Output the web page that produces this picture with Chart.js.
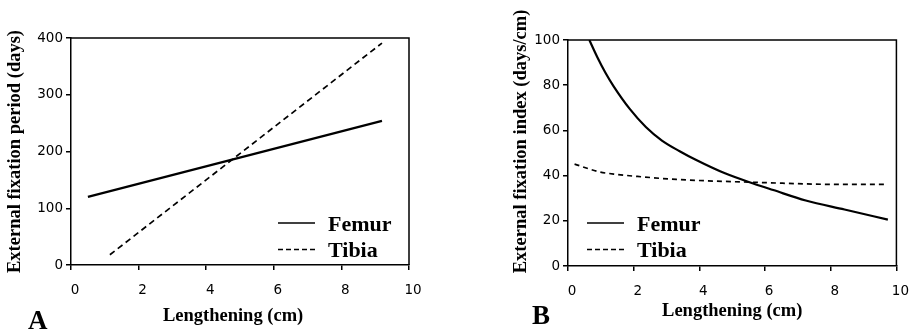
<!DOCTYPE html>
<html>
<head>
<meta charset="utf-8">
<script src="https://cdn.jsdelivr.net/npm/chart.js@4/dist/chart.umd.min.js"></script>
<style>
  html, body { margin: 0; padding: 0; background: #fff; }
  #wrap { position: relative; width: 917px; height: 332px; overflow: hidden; }
  canvas { position: absolute; top: 0; }
  #chartA { left: 0; }
  #chartB { left: 460px; }
</style>
</head>
<body>
<div id="wrap">
  <canvas id="chartA" width="460" height="332"></canvas>
  <canvas id="chartB" width="457" height="332"></canvas>
</div>
<script>
// panel A: external fixation period (days) vs lengthening (cm)
const femurPeriodX = [0.5, 9.2];
const femurPeriodY = [120, 254];
const tibiaPeriodX = [1.15, 9.2];
const tibiaPeriodY = [18, 391];

// panel B: external fixation index (days/cm) vs lengthening (cm)
const femurIndexX = [0.65, 0.89, 1.14, 1.39, 1.88, 2.37, 2.86, 3.40, 3.89, 4.78, 5.66, 6.25, 7.24, 8.42, 9.74];
const femurIndexY = [100, 92.5, 85.5, 79.5, 69.5, 61.5, 55.5, 50.8, 47, 41, 36.4, 33.6, 29, 25, 20.5];
const tibiaIndexX = [0.2, 0.94, 1.5, 2.22, 3.3, 5.76, 8.22, 9.69];
const tibiaIndexY = [45.1, 41.7, 40.5, 39.5, 38.3, 37.0, 36.1, 36.1];

const xTicks = [0, 2, 4, 6, 8, 10];
const periodTicks = [0, 100, 200, 300, 400];
const indexTicks = [0, 20, 40, 60, 80, 100];

const toPoints = (xs, ys) => xs.map((x, i) => ({x: x, y: ys[i]}));

const serif = '"Liberation Serif", "Times New Roman", serif';
const sans = '"DejaVu Sans", sans-serif';
const nb = n => '\u00a0'.repeat(n);

// draws the top/right frame, the in-plot legend and the panel letter
const decor = {
  id: 'decor',
  afterDraw(chart, args, opts) {
    const {ctx, chartArea: a} = chart;
    ctx.save();
    ctx.strokeStyle = '#000';
    ctx.fillStyle = '#000';
    ctx.lineWidth = 1.5;
    ctx.beginPath();
    ctx.moveTo(a.left, a.top);
    ctx.lineTo(a.right, a.top);
    ctx.lineTo(a.right, a.bottom);
    ctx.stroke();

    ctx.font = 'bold 22px ' + serif;
    ctx.textBaseline = 'alphabetic';
    chart.data.datasets.forEach((ds, i) => {
      const y = opts.legendY + i * 26.5;
      ctx.beginPath();
      ctx.setLineDash(ds.borderDash ? [5, 3] : []);
      ctx.lineWidth = 1.3;
      ctx.moveTo(opts.legendX, y);
      ctx.lineTo(opts.legendX + 37, y);
      ctx.stroke();
      ctx.setLineDash([]);
      ctx.fillText(ds.label, opts.legendX + 50, y + 7.5);
    });

    ctx.font = 'bold 27px ' + serif;
    ctx.fillText(opts.letter, opts.letterX, opts.letterY);
    ctx.restore();
  }
};

const makeChart = (id, femur, tibia, yMax, yTitle, xTitle, cfg) => {
  return new Chart(id, {
    type: 'line',
    data: {
      datasets: [
        {label: 'Femur', data: femur, borderColor: '#000', borderWidth: 2.2,
         pointRadius: 0, fill: false, cubicInterpolationMode: 'monotone'},
        {label: 'Tibia', data: tibia, borderColor: '#000', borderWidth: 1.7, borderDash: cfg.dash,
         pointRadius: 0, fill: false, cubicInterpolationMode: 'monotone'}
      ]
    },
    options: {
      responsive: false,
      animation: false,
      events: [],
      layout: {padding: {left: 0, top: cfg.top, right: cfg.right, bottom: 0}},
      plugins: {
        legend: {display: false},
        tooltip: {enabled: false},
        decor: cfg.decor
      },
      scales: {
        x: {
          type: 'linear',
          min: 0, max: 10,
          afterBuildTicks: s => { s.ticks = xTicks.map(v => ({value: v})); },
          afterFit: s => { s.height = cfg.xHeight; },
          grid: {drawOnChartArea: false, drawTicks: true, tickLength: 5, color: '#000', lineWidth: 1.5},
          border: {display: true, color: '#000', width: 1.5},
          ticks: {color: '#000', font: {family: sans, size: 13.5}, padding: 12, labelOffset: 4, maxRotation: 0},
          title: {display: true, text: xTitle, color: '#000',
                  font: {family: serif, size: 18.5, weight: 'bold'}, padding: {top: 0, bottom: cfg.xTitlePad}}
        },
        y: {
          min: 0, max: yMax,
          afterBuildTicks: s => { s.ticks = cfg.yTicks.map(v => ({value: v})); },
          afterFit: s => { s.width = cfg.yWidth; },
          grid: {drawOnChartArea: false, drawTicks: true, tickLength: 5, color: '#000', lineWidth: 1.5},
          border: {display: true, color: '#000', width: 1.5},
          ticks: {color: '#000', font: {family: sans, size: 13.5}, padding: 3},
          title: {display: true, text: yTitle, color: '#000',
                  font: {family: serif, size: 18.5, weight: 'bold'}, padding: {top: cfg.yTitlePad, bottom: 0}}
        }
      }
    },
    plugins: [decor]
  });
};

makeChart('chartA', toPoints(femurPeriodX, femurPeriodY), toPoints(tibiaPeriodX, tibiaPeriodY),
  400, 'External fixation period (days)', 'Lengthening (cm)' + nb(3), {
    top: 38, right: 51, xHeight: 67, yWidth: 71, xTitlePad: 5, yTitlePad: 4,
    yTicks: periodTicks, dash: [6, 4],
    decor: {legendX: 278, legendY: 223, letter: 'A', letterX: 28, letterY: 329}
  });

makeChart('chartB', toPoints(femurIndexX, femurIndexY), toPoints(tibiaIndexX, tibiaIndexY),
  100, nb(5) + 'External fixation index (days/cm)', 'Lengthening (cm)', {
    top: 40, right: 10, xHeight: 66, yWidth: 108, xTitlePad: 10, yTitlePad: 50.5,
    yTicks: indexTicks, dash: [5, 4],
    decor: {legendX: 127, legendY: 223, letter: 'B', letterX: 72, letterY: 324}
  });
</script>
</body>
</html>
